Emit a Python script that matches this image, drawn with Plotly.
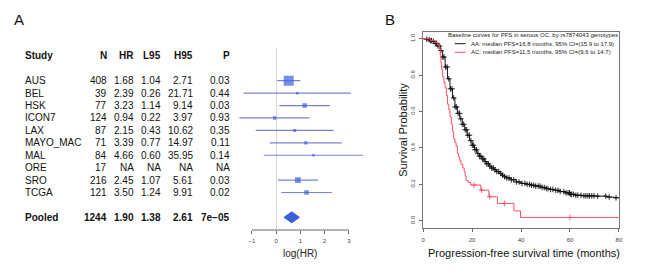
import numpy as np
import plotly.graph_objects as go

# ---------------- Panel A: forest plot data ----------------
studies = ["AUS", "BEL", "HSK", "ICON7", "LAX", "MAYO_MAC", "MAL", "ORE", "SRO", "TCGA"]
n_pat = [408, 39, 77, 124, 87, 71, 84, 17, 216, 121]
hr = [1.68, 2.39, 3.23, 0.94, 2.15, 3.39, 4.66, None, 2.45, 3.50]
l95 = [1.04, 0.26, 1.14, 0.22, 0.43, 0.77, 0.60, None, 1.07, 1.24]
h95 = [2.71, 21.71, 9.14, 3.97, 10.62, 14.97, 35.95, None, 5.61, 9.91]
p_val = ["0.03", "0.44", "0.03", "0.93", "0.35", "0.11", "0.14", "NA", "0.03", "0.02"]
pooled_label = "Pooled"
pooled_n = 1244
pooled_hr = 1.90
pooled_l95 = 1.38
pooled_h95 = 2.61
pooled_p = "7e\u221205"
forest_ticks = [-1, 0, 1, 2, 3]
col_headers = ["Study", "N", "HR", "L95", "H95", "P"]

# ---------------- Panel B: Kaplan-Meier data ----------------
aa_time = [0, 1, 2, 3, 4, 5, 6, 7, 8, 9, 10, 11, 12, 13, 14, 15, 16, 17, 18, 19, 20,
           21, 22, 23, 24, 25, 26, 27, 28, 29, 30, 31, 32, 33, 34, 36, 38, 40, 42, 44,
           46, 48, 50, 52, 54, 56, 58, 60, 62, 65, 70, 75, 78, 80]
aa_surv = [1.0, 0.998, 0.995, 0.99, 0.985, 0.975, 0.96, 0.935, 0.90, 0.845, 0.78, 0.725,
           0.675, 0.625, 0.59, 0.56, 0.53, 0.50, 0.47, 0.44, 0.415, 0.39, 0.37, 0.355,
           0.34, 0.325, 0.313, 0.30, 0.29, 0.28, 0.27, 0.26, 0.25, 0.242, 0.235, 0.225,
           0.213, 0.205, 0.20, 0.195, 0.19, 0.183, 0.177, 0.172, 0.167, 0.16, 0.153,
           0.145, 0.14, 0.137, 0.135, 0.13, 0.126, 0.126]
aa_cens = [1.5, 2.5, 3.0, 3.5, 4.2, 5.0, 5.5, 6.1, 6.8, 7.3, 8.0, 8.5, 9.2, 9.8, 10.5,
           11.2, 11.8, 12.5, 13.1, 13.7, 14.3, 14.9, 15.4, 16.0, 16.6, 17.2, 17.8, 18.3,
           18.9, 19.5, 20.1, 20.6, 21.2, 21.8, 22.4, 23.0, 23.6, 24.2, 24.8, 25.4, 26.0,
           26.7, 27.3, 28.0, 28.7, 29.4, 30.1, 30.9, 31.7, 32.5, 33.3, 34.2, 35.1, 36.0,
           37.0, 38.1, 39.2, 40.4, 41.6, 42.5, 43.5, 44.3, 45.2, 46.0, 47.0, 47.8, 48.6,
           49.5, 50.3, 51.0, 52.1, 53.0, 54.2, 55.1, 56.0, 57.5, 58.4, 59.2, 59.8, 60.3,
           60.7, 61.5, 62.4, 63.2, 64.5, 65.7, 66.5, 67.3, 68.0, 68.9, 69.8, 71.3, 74.6,
           76.0, 78.8]
ac_time = [0, 3, 5, 6, 6.7, 7, 7.3, 7.6, 8, 8.5, 9, 9.5, 10, 10.5, 11, 11.5, 12, 12.5,
           13, 13.5, 14, 14.5, 15, 15.5, 16.2, 16.8, 17.2, 17.6, 18.5, 19.5, 23.6, 26.9,
           30.4, 37.1, 39.8, 80]
ac_surv = [1.0, 0.99, 0.98, 0.965, 0.945, 0.91, 0.87, 0.83, 0.79, 0.76, 0.73, 0.69,
           0.64, 0.61, 0.57, 0.53, 0.49, 0.45, 0.43, 0.41, 0.37, 0.35, 0.33, 0.31, 0.29,
           0.27, 0.245, 0.22, 0.21, 0.196, 0.168, 0.132, 0.095, 0.054, 0.018, 0.018]
ac_cens = [20.8, 23.9, 27.2, 33.3, 60.0]
km_xticks = [0, 20, 40, 60, 80]
km_yticks = [0.0, 0.2, 0.4, 0.6, 0.8, 1.0]
legend_title = "Baseline curves for PFS in serous OC, by rs7874043 genotypes"
legend_aa = "AA: median PFS=16.8 months, 95% CI=(15.9 to 17.9)"
legend_ac = "AC: median PFS=11.5 months, 95% CI=(9.6 to 14.7)"

# ---------------- helpers ----------------
W, H = 650, 276
FONT = "Liberation Sans, Arial, Helvetica, sans-serif"


def px(x):
    return x / W


def py(y):
    return 1 - y / H


def step_value(times, surv, t):
    i = np.searchsorted(np.array(times), t, side="right") - 1
    return surv[max(i, 0)]


fig = go.Figure()

# ---------------- forest traces ----------------
rows = list(range(1, len(studies) + 1))
pooled_row = len(studies) + 2
ci_x, ci_y, sq_x, sq_y, sq_size = [], [], [], [], []
for r, h, lo, hi in zip(rows, hr, l95, h95):
    if h is None:
        continue
    ci_x += [np.log(lo), np.log(hi), None]
    ci_y += [r, r, None]
    se = (np.log(hi) - np.log(lo)) / 3.92
    sq_x.append(np.log(h))
    sq_y.append(r)
    sq_size.append(max(2.45 * np.sqrt(1 / se ** 2), 2.5))

fig.add_trace(go.Scatter(x=ci_x, y=ci_y, mode="lines", xaxis="x", yaxis="y",
                         line=dict(color="#7d82d6", width=1.2), hoverinfo="skip"))
fig.add_trace(go.Scatter(x=sq_x, y=sq_y, mode="markers", xaxis="x", yaxis="y",
                         marker=dict(symbol="square", size=sq_size, color="#3d5fdf",
                                     line=dict(width=0))))
dh = 0.44
fig.add_trace(go.Scatter(
    x=[np.log(pooled_l95), np.log(pooled_hr), np.log(pooled_h95), np.log(pooled_hr), np.log(pooled_l95)],
    y=[pooled_row, pooled_row - dh, pooled_row, pooled_row + dh, pooled_row],
    mode="lines", fill="toself", fillcolor="#3d5fdf", line=dict(color="#3d5fdf", width=1),
    xaxis="x", yaxis="y"))

# ---------------- KM traces ----------------
fig.add_trace(go.Scatter(x=aa_time, y=aa_surv, mode="lines", line_shape="hv",
                         line=dict(color="#1a1a1a", width=1), xaxis="x2", yaxis="y2"))
fig.add_trace(go.Scatter(x=aa_cens, y=[step_value(aa_time, aa_surv, t) for t in aa_cens],
                         mode="markers", xaxis="x2", yaxis="y2",
                         marker=dict(symbol="cross-thin", size=4, color="#111",
                                     line=dict(color="#111", width=0.9))))
fig.add_trace(go.Scatter(x=ac_time, y=ac_surv, mode="lines", line_shape="hv",
                         line=dict(color="#ff4f63", width=1), xaxis="x2", yaxis="y2"))
fig.add_trace(go.Scatter(x=ac_cens, y=[step_value(ac_time, ac_surv, t) for t in ac_cens],
                         mode="markers", xaxis="x2", yaxis="y2",
                         marker=dict(symbol="cross-thin", size=4, color="#ff4f63",
                                     line=dict(color="#ff4f63", width=0.9))))

ann = []
# table
col_x = [21.7, 108.3, 135.3, 162.7, 195.0, 232.3]
for j, (hdr, cx) in enumerate(zip(col_headers, col_x)):
    ann.append(dict(x=px(cx), xref="paper", y=-1, yref="y", text="<b>%s</b>" % hdr,
                    xanchor="left" if j == 0 else "right", yanchor="middle", showarrow=False,
                    font=dict(size=10, color="#111", family=FONT)))


def fmt(v):
    return "NA" if v is None else "%.2f" % v


for r, s, nn, h, lo, hi, pv in zip(rows, studies, n_pat, hr, l95, h95, p_val):
    vals = [s, str(nn), fmt(h), fmt(lo), fmt(hi), pv]
    for j, (v, cx) in enumerate(zip(vals, col_x)):
        ann.append(dict(x=px(cx), xref="paper", y=r, yref="y", text=v,
                        xanchor="left" if j == 0 else "right", yanchor="middle",
                        showarrow=False, font=dict(size=10, color="#111", family=FONT)))
pvals = [pooled_label, str(pooled_n), fmt(pooled_hr), fmt(pooled_l95), fmt(pooled_h95), pooled_p]
for j, (v, cx) in enumerate(zip(pvals, col_x)):
    ann.append(dict(x=px(cx), xref="paper", y=pooled_row, yref="y", text="<b>%s</b>" % v,
                    xanchor="left" if j == 0 else "right", yanchor="middle",
                    showarrow=False, font=dict(size=10, color="#111", family=FONT)))

ann.append(dict(x=1, xref="x", y=py(253.3), yref="paper", text="log(HR)", showarrow=False,
                xanchor="center", yanchor="middle", font=dict(size=10, color="#222", family=FONT)))
ann.append(dict(x=px(17), y=py(20), xref="paper", yref="paper", text="A", showarrow=False,
                xanchor="center", yanchor="middle", font=dict(size=15, color="#111", family=FONT)))
ann.append(dict(x=px(391.7), y=py(20), xref="paper", yref="paper", text="B", showarrow=False,
                xanchor="center", yanchor="middle", font=dict(size=15, color="#111", family=FONT)))
ann.append(dict(x=px(404), y=py(129.5), xref="paper", yref="paper", text="Survival Probability",
                textangle=-90, showarrow=False, xanchor="center", yanchor="middle",
                font=dict(size=11, color="#111", family=FONT)))
ann.append(dict(x=px(527), y=py(253), xref="paper", yref="paper",
                text="Progression-free survival time (months)", showarrow=False,
                xanchor="center", yanchor="middle", font=dict(size=11, color="#111", family=FONT)))
ann.append(dict(x=px(535.5), y=py(35), xref="paper", yref="paper", text=legend_title,
                showarrow=False, xanchor="center", yanchor="middle",
                font=dict(size=6, color="#222", family=FONT)))
ann.append(dict(x=px(471), y=py(43.7), xref="paper", yref="paper", text=legend_aa,
                showarrow=False, xanchor="left", yanchor="middle",
                font=dict(size=6, color="#222", family=FONT)))
ann.append(dict(x=px(471), y=py(52.3), xref="paper", yref="paper", text=legend_ac,
                showarrow=False, xanchor="left", yanchor="middle",
                font=dict(size=6, color="#222", family=FONT)))

shapes = [
    dict(type="line", xref="x", yref="paper", x0=forest_ticks[0], x1=forest_ticks[-1],
         y0=py(230), y1=py(230), line=dict(color="#666", width=1)),
    dict(type="line", xref="paper", yref="paper", x0=px(457), x1=px(468),
         y0=py(43.7), y1=py(43.7), line=dict(color="#1a1a1a", width=1)),
    dict(type="line", xref="paper", yref="paper", x0=px(457), x1=px(468),
         y0=py(52.3), y1=py(52.3), line=dict(color="#ff4f63", width=1)),
]

tickfont = dict(size=6, color="#444", family=FONT)
fig.update_layout(
    width=W, height=H, margin=dict(l=0, r=0, t=0, b=0),
    paper_bgcolor="white", plot_bgcolor="white", showlegend=False,
    font=dict(family=FONT),
    annotations=ann, shapes=shapes,
    xaxis=dict(domain=[px(237.5), px(367.35)], range=[-1.6, 3.7], anchor="y",
               tickvals=forest_ticks, ticks="outside", ticklen=3, tickcolor="#666",
               tickfont=tickfont, showline=False, showgrid=False,
               zeroline=True, zerolinecolor="#d8d8d8", zerolinewidth=1, ticklabelstandoff=2),
    yaxis=dict(domain=[py(230), py(48.3)], range=[13.02, -1.61], anchor="x",
               visible=False, showgrid=False, zeroline=False),
    xaxis2=dict(domain=[px(425), px(622.7)], range=[0, 80], anchor="y2",
                tickvals=km_xticks, ticks="outside", ticklen=3, tickcolor="#666",
                tickfont=tickfont, showline=True, mirror=True, linecolor="#777", linewidth=1,
                showgrid=False, zeroline=False, ticklabelstandoff=3),
    yaxis2=dict(domain=[py(228), py(31.5)], range=[-0.04, 1.04], anchor="x2",
                tickvals=km_yticks, ticktext=["%.1f" % v for v in km_yticks], tickangle=-90,
                ticks="outside", ticklen=3, tickcolor="#666", tickfont=tickfont,
                showline=True, mirror=True, linecolor="#777", linewidth=1,
                showgrid=False, zeroline=False, ticklabelstandoff=2),
)

fig.write_html("out.html", config={"displayModeBar": False},
               post_script="document.body.style.margin='0px';document.body.style.padding='0px';")
